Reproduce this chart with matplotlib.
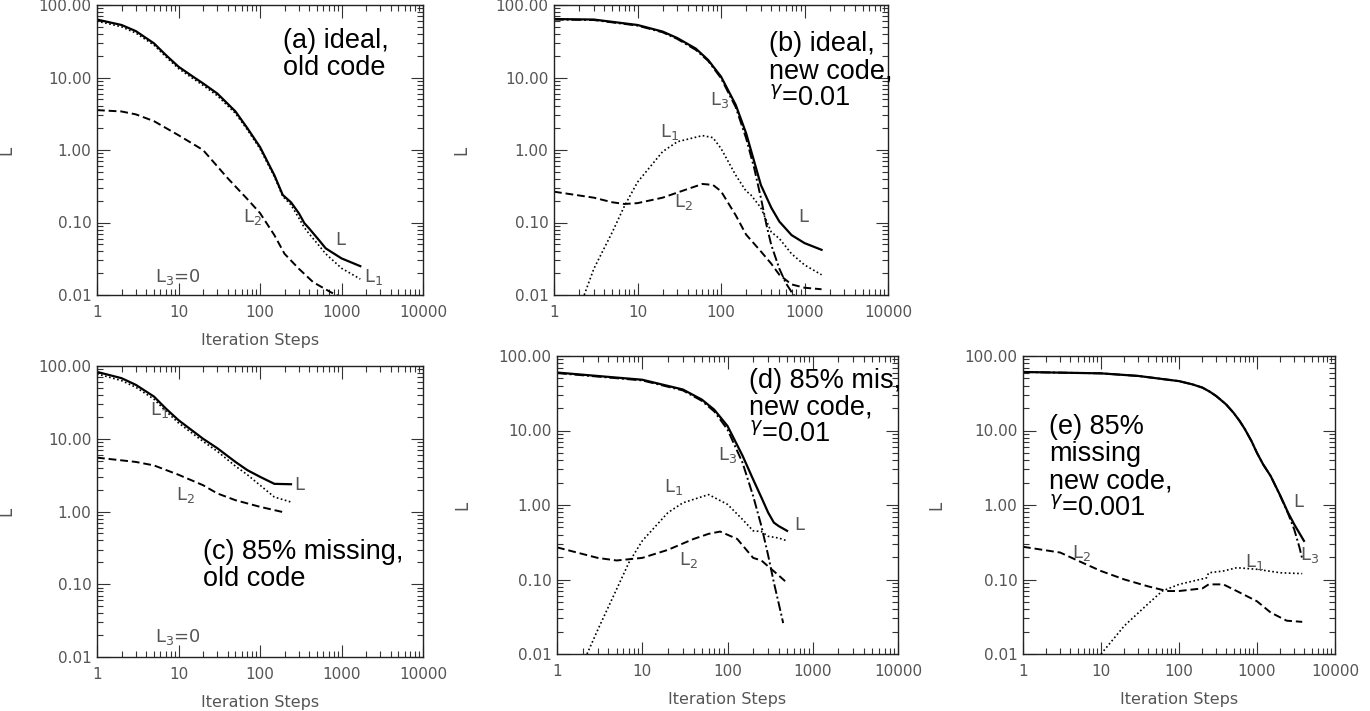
import matplotlib.pyplot as plt
from matplotlib.ticker import FixedLocator, LogLocator, NullFormatter

FIG_W, FIG_H = 1370, 711
DPI = 100

TICK_COLOR = "#555555"
TICK_FONT = 11
LABEL_FONT = 13
NOTE_FONT = 19.5
NOTE_FAMILY = ["Liberation Sans", "DejaVu Sans"]

# axes boxes in pixels: left, top, right, bottom
BOX_A = (97, 5, 423, 295)
BOX_B = (554, 5, 888, 295)
BOX_C = (97, 366, 423, 657)
BOX_D = (557, 356, 898, 654)
BOX_E = (1023, 356, 1335, 654)

X_TICKS = [1, 10, 100, 1000, 10000]
X_TICK_LABELS = ["1", "10", "100", "1000", "10000"]
Y_TICKS = [0.01, 0.1, 1, 10, 100]
Y_TICK_LABELS = ["0.01", "0.10", "1.00", "10.00", "100.00"]

# (a) ideal, old code
A_X = [1, 2, 3, 5, 7, 10, 15, 20, 30, 50, 70, 100, 150, 190, 240, 300, 350, 400, 530, 640, 1000,
       1700]
A_L = [63, 53, 43.6, 29.6, 20.4, 14.1, 10.3, 8.3, 6.0, 3.4, 2.0, 1.1, 0.45, 0.24, 0.19, 0.134,
       0.098, 0.083, 0.057, 0.044, 0.032, 0.025]
A_L1 = [60, 50, 41, 28, 19.3, 13.3, 9.7, 7.8, 5.6, 3.2, 1.9, 1.04, 0.43, 0.23, 0.175, 0.115, 0.085,
        0.07, 0.048, 0.037, 0.0234, 0.0166]
A_X2 = [1, 2, 3, 5, 10, 20, 40, 70, 100, 150, 200, 300, 450, 730, 900]
A_L2 = [3.55, 3.4, 3.1, 2.5, 1.6, 1.0, 0.41, 0.21, 0.135, 0.067, 0.037, 0.023, 0.015, 0.011, 0.0098]

# (b) ideal, new code
B_X = [1, 3, 10, 20, 30, 50, 70, 100, 150, 200, 250, 300, 400, 500, 700, 1000, 1600]
B_L = [64, 63, 53, 43, 35, 25, 17.5, 10.3, 4.2, 1.7, 0.69, 0.33, 0.16, 0.103, 0.067, 0.052, 0.042]
B_X3 = [1, 3, 10, 20, 30, 50, 70, 100, 150, 200, 250, 300, 350, 400, 500, 600, 700, 800]
B_L3 = [63, 62, 52, 42, 34, 24, 17, 9.8, 3.9, 1.45, 0.56, 0.22, 0.093, 0.049, 0.023, 0.0145, 0.011,
        0.009]
B_X1 = [2.3, 3, 5, 7, 10, 20, 30, 60, 80, 100, 150, 200, 225, 300, 400, 500, 700, 1000, 1600]
B_L1 = [0.01, 0.023, 0.074, 0.17, 0.36, 0.95, 1.3, 1.58, 1.48, 1.05, 0.45, 0.27, 0.245, 0.16,
        0.074, 0.06, 0.037, 0.026, 0.019]
B_X2 = [1, 3, 5, 7, 10, 20, 40, 60, 80, 100, 150, 200, 300, 400, 500, 700, 1000, 1600]
B_L2 = [0.266, 0.22, 0.19, 0.18, 0.185, 0.22, 0.29, 0.34, 0.33, 0.27, 0.126, 0.068, 0.04, 0.027,
        0.019, 0.014, 0.0126, 0.012]

# (c) 85% missing, old code
C_X = [1, 2, 3, 5, 7, 10, 20, 30, 50, 70, 100, 150, 240]
C_L = [83, 68, 55, 38, 26, 18, 10, 7.4, 4.8, 3.7, 3.0, 2.4, 2.37]
C_L1 = [78, 63, 51, 35, 24, 16.5, 9.2, 6.7, 4.2, 3.2, 2.3, 1.58, 1.35]
C_X2 = [1, 3, 5, 10, 20, 30, 50, 100, 200]
C_L2 = [5.5, 4.8, 4.3, 3.2, 2.3, 1.77, 1.43, 1.16, 0.97]

# (d) 85% missing, new code, gamma=0.01
D_X = [1, 10, 30, 50, 70, 100, 150, 200, 250, 300, 350, 400, 500]
D_L = [60, 48, 35.5, 26, 19, 11.5, 4.6, 2.2, 1.26, 0.79, 0.58, 0.52, 0.45]
D_X3 = [1, 10, 30, 50, 70, 100, 150, 200, 250, 300, 350, 400, 450]
D_L3 = [59, 47, 34.5, 25, 18, 10.3, 3.7, 1.32, 0.52, 0.21, 0.091, 0.047, 0.026]
D_X1 = [2.25, 3, 5, 7, 10, 20, 30, 60, 100, 150, 200, 250, 300, 400, 500]
D_L1 = [0.01, 0.021, 0.074, 0.17, 0.33, 0.79, 1.07, 1.38, 1.02, 0.64, 0.45, 0.44, 0.38, 0.36, 0.33]
D_X2 = [1, 3, 5, 10, 20, 40, 60, 82, 130, 200, 250, 300, 400, 500]
D_L2 = [0.27, 0.195, 0.18, 0.195, 0.25, 0.35, 0.41, 0.44, 0.35, 0.195, 0.18, 0.15, 0.113, 0.09]

# (e) 85% missing, new code, gamma=0.001
E_X = [1, 10, 30, 100, 150, 200, 250, 300, 400, 500, 600, 700, 850, 1000, 1200, 1500, 2000, 2500,
       3000, 4000]
E_L = [61, 58.5, 54, 46, 41.5, 37.6, 33, 29, 22.5, 17.3, 13.4, 10.4, 7.2, 5.0, 3.5, 2.44, 1.32, 0.79,
       0.55, 0.33]
E_X3 = [1, 10, 30, 100, 150, 200, 250, 300, 400, 500, 600, 700, 850, 1000, 1200, 1500, 2000, 2500,
        3000, 3500, 3800]
E_L3 = [61, 58.5, 54, 46, 41.5, 37.6, 33, 29, 22.5, 17.3, 13.4, 10.4, 7.2, 5.0, 3.5, 2.44, 1.3, 0.77,
        0.47, 0.27, 0.19]
E_X2 = [1, 3, 5, 10, 20, 40, 70, 100, 200, 240, 370, 550, 1000, 1500, 2400, 3800]
E_L2 = [0.275, 0.23, 0.18, 0.13, 0.1, 0.081, 0.07, 0.07, 0.076, 0.086, 0.086, 0.07, 0.051, 0.036,
        0.028, 0.027]
E_X1 = [10, 20, 40, 61, 100, 200, 225, 240, 370, 550, 1000, 2000, 3800]
E_L1 = [0.01, 0.024, 0.047, 0.07, 0.086, 0.102, 0.105, 0.123, 0.13, 0.144, 0.137, 0.123, 0.12]

STYLE_L = dict(color="black", linewidth=1.6, linestyle="-")
STYLE_L1 = dict(color="black", linewidth=1.2, linestyle=(0, (1, 1.5)))
STYLE_L2 = dict(color="black", linewidth=1.4, linestyle=(0, (4, 2)))
STYLE_L3 = dict(color="black", linewidth=1.4, linestyle=(0, (5, 1.5, 1, 1.5)))


def make_axes(fig, box):
    left, top, right, bottom = box
    rect = [left / FIG_W, 1 - bottom / FIG_H, (right - left) / FIG_W, (bottom - top) / FIG_H]
    ax = fig.add_axes(rect)
    ax.set_xscale("log")
    ax.set_yscale("log")
    ax.set_xlim(1, 10000)
    ax.set_ylim(0.01, 100)

    ax.xaxis.set_major_locator(FixedLocator(X_TICKS))
    ax.set_xticklabels(X_TICK_LABELS)
    ax.yaxis.set_major_locator(FixedLocator(Y_TICKS))
    ax.set_yticklabels(Y_TICK_LABELS)
    for axis in (ax.xaxis, ax.yaxis):
        axis.set_minor_locator(LogLocator(base=10, subs=range(2, 10), numticks=20))
        axis.set_minor_formatter(NullFormatter())

    ax.tick_params(which="both", direction="in", top=True, right=True, colors="#333333",
                   labelcolor=TICK_COLOR, labelsize=TICK_FONT, width=0.8)
    ax.tick_params(which="major", length=9)
    ax.tick_params(which="minor", length=4.5)
    ax.tick_params(axis="x", pad=7)
    ax.tick_params(axis="y", pad=4)
    for spine in ax.spines.values():
        spine.set_linewidth(1.0)
        spine.set_color("#222222")

    ax.set_ylabel("L", color=TICK_COLOR, fontsize=LABEL_FONT - 1)
    ax.yaxis.set_label_coords(-0.25, 0.5)
    return ax


def x_label(ax, box):
    ax.set_xlabel("Iteration Steps", color=TICK_COLOR, fontsize=TICK_FONT + 0.5)
    ax.xaxis.set_label_coords(0.5, -38 / (box[3] - box[1]))


def curve_label(ax, x, y, name, sub=None, ha="center"):
    text = name if sub is None else name + r"$_\mathregular{" + sub + "}$"
    ax.text(x, y, text, ha=ha, va="center", color=TICK_COLOR, fontsize=LABEL_FONT)


def note(ax, x, y, text):
    ax.text(x, y, text, transform=ax.transAxes, ha="left", va="top", fontsize=NOTE_FONT,
            family=NOTE_FAMILY, color="black", linespacing=1.05, clip_on=False, zorder=6)


def panel_a(fig):
    ax = make_axes(fig, BOX_A)
    ax.plot(A_X, A_L, **STYLE_L)
    ax.plot(A_X, A_L1, **STYLE_L1)
    ax.plot(A_X2, A_L2, **STYLE_L2)
    curve_label(ax, 960, 0.057, "L")
    curve_label(ax, 2500, 0.0178, "L", "1")
    curve_label(ax, 80, 0.12, "L", "2")
    ax.text(5.1, 0.0178, r"L$_\mathregular{3}$=0", ha="left", va="center", color=TICK_COLOR,
            fontsize=LABEL_FONT)
    note(ax, 0.57, 0.92, "(a) ideal,\nold code")
    x_label(ax, BOX_A)


def panel_b(fig):
    ax = make_axes(fig, BOX_B)
    ax.plot(B_X, B_L, **STYLE_L)
    ax.plot(B_X3, B_L3, **STYLE_L3)
    ax.plot(B_X1, B_L1, **STYLE_L1)
    ax.plot(B_X2, B_L2, **STYLE_L2)
    curve_label(ax, 97, 4.9, "L", "3")
    curve_label(ax, 24, 1.78, "L", "1")
    curve_label(ax, 36, 0.19, "L", "2")
    curve_label(ax, 960, 0.12, "L")
    note(ax, 0.644, 0.91, "(b) ideal,\nnew code,\n$^\\gamma$=0.01")


def panel_c(fig):
    ax = make_axes(fig, BOX_C)
    ax.plot(C_X, C_L, **STYLE_L)
    ax.plot(C_X, C_L1, **STYLE_L1)
    ax.plot(C_X2, C_L2, **STYLE_L2)
    curve_label(ax, 5.9, 24.8, "L", "1")
    curve_label(ax, 300, 2.31, "L")
    curve_label(ax, 12.3, 1.69, "L", "2")
    ax.text(5.1, 0.0188, r"L$_\mathregular{3}$=0", ha="left", va="center", color=TICK_COLOR,
            fontsize=LABEL_FONT)
    note(ax, 0.325, 0.405, "(c) 85% missing,\nold code")
    x_label(ax, BOX_C)


def panel_d(fig):
    ax = make_axes(fig, BOX_D)
    ax.plot(D_X, D_L, **STYLE_L)
    ax.plot(D_X3, D_L3, **STYLE_L3)
    ax.plot(D_X1, D_L1, **STYLE_L1)
    ax.plot(D_X2, D_L2, **STYLE_L2)
    curve_label(ax, 99, 4.7, "L", "3")
    curve_label(ax, 23, 1.75, "L", "1")
    curve_label(ax, 35, 0.183, "L", "2")
    curve_label(ax, 690, 0.54, "L")
    note(ax, 0.563, 0.96, "(d) 85% mis,\nnew code,\n$^\\gamma$=0.01")
    x_label(ax, BOX_D)


def panel_e(fig):
    ax = make_axes(fig, BOX_E)
    ax.plot(E_X, E_L, **STYLE_L)
    ax.plot(E_X3, E_L3, **STYLE_L3)
    ax.plot(E_X2, E_L2, **STYLE_L2)
    ax.plot(E_X1, E_L1, **STYLE_L1)
    curve_label(ax, 3355, 1.1, "L")
    curve_label(ax, 4700, 0.21, "L", "3")
    curve_label(ax, 940, 0.17, "L", "1")
    curve_label(ax, 5.7, 0.227, "L", "2")
    note(ax, 0.083, 0.805, "(e) 85%\nmissing\nnew code,\n$^\\gamma$=0.001")
    x_label(ax, BOX_E)


def main() -> None:
    fig = plt.figure(figsize=(FIG_W / DPI, FIG_H / DPI), dpi=DPI)
    panel_a(fig)
    panel_b(fig)
    panel_c(fig)
    panel_d(fig)
    panel_e(fig)
    fig.savefig("out.png", dpi=DPI, facecolor="white")
    plt.close(fig)


if __name__ == "__main__":
    main()
